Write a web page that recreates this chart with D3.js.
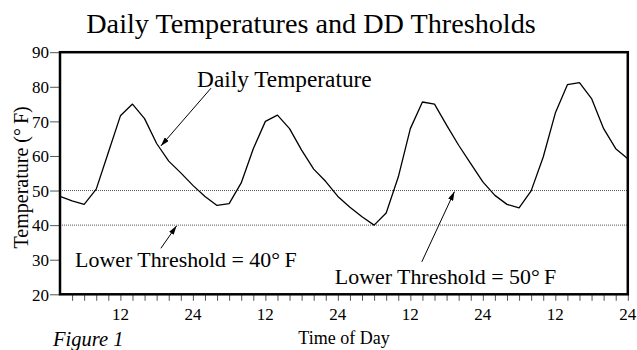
<!DOCTYPE html>
<html>
<head>
<meta charset="utf-8">
<script src="https://cdn.jsdelivr.net/npm/d3@7"></script>
<style>
  html, body { margin: 0; padding: 0; background: #fff; }
  svg { display: block; }
  svg text { font-family: "Liberation Serif", "Times New Roman", Times, "DejaVu Serif", serif !important; }
</style>
</head>
<body>
<svg id="chart" width="637" height="350"></svg>
<script>
// ---- data ----
const hours = [2, 4, 6, 8, 10, 12, 14, 16, 18, 20, 22, 24,
               26, 28, 30, 32, 34, 36, 38, 40, 42, 44, 46, 48,
               50, 52, 54, 56, 58, 60, 62, 64, 66, 68, 70, 72,
               74, 76, 78, 80, 82, 84, 86, 88, 90, 92, 94, 96];
const temps = [48.3, 47.0, 46.0, 50.4, 61.0, 71.6, 75.0, 70.8, 63.6, 58.5, 55.1, 51.5,
               48.3, 45.7, 46.2, 52.2, 62.1, 70.0, 71.8, 67.9, 61.7, 56.2, 52.6, 48.3,
               45.2, 42.4, 40.0, 43.5, 53.9, 67.9, 75.6, 75.0, 68.9, 63.1, 57.8, 52.5,
               48.6, 46.0, 45.0, 49.9, 59.7, 72.4, 80.6, 81.2, 76.6, 67.9, 62.1, 59.2];
const thresholds = [40, 50];
const yTicks = [20, 30, 40, 50, 60, 70, 80, 90];
const xMinorTicks = [4, 6, 8, 10, 12, 14, 16, 18, 20, 22, 24, 26, 28, 30, 32, 34, 36, 38, 40, 42, 44, 46, 48,
                     50, 52, 54, 56, 58, 60, 62, 64, 66, 68, 70, 72, 74, 76, 78, 80, 82, 84, 86, 88, 90, 92, 94, 96];
const xLabelTicks = [12, 24, 36, 48, 60, 72, 84, 96];
const xLabelText = ["12", "24", "12", "24", "12", "24", "12", "24"];
// annotations in data space: [hour, temp]
const annotLabels = ["Daily Temperature", "Lower Threshold = 40°\u2009F", "Lower Threshold = 50°\u2009F"];
const annotLabelPos = [[24.7, 79.8], [4.5, 27.9], [47.5, 23.0]];
const arrowFrom = [[27.0, 79.6], [18.7, 33.3], [61.9, 29.4]];
const arrowTo   = [[18.7, 62.9], [21.3, 39.8], [67.3, 49.7]];

(function () {
  const FONT = "'Liberation Serif', 'Times New Roman', Times, 'DejaVu Serif', serif";
  const annotSizes = [23.3, 21.9, 21.9];
  const svg = d3.select("#chart").attr("font-family", FONT);
  const pL = 60, pR = 627.8, pT = 52.2, pB = 294.3;
  const x = d3.scaleLinear().domain([2, 96]).range([pL, pR]);
  const y = d3.scaleLinear().domain([20, 90]).range([pB, pT]);

  svg.append("rect").attr("width", 637).attr("height", 350).attr("fill", "#fff");

  // title
  svg.append("text")
    .attr("x", 311).attr("y", 33.3)
    .attr("text-anchor", "middle")
    .attr("font-family", FONT)
    .attr("font-size", 28.2)
    .text("Daily Temperatures and DD Thresholds");

  // threshold dotted lines
  svg.append("g").selectAll("line").data(thresholds).join("line")
    .attr("x1", pL).attr("x2", pR)
    .attr("y1", d => y(d)).attr("y2", d => y(d))
    .attr("stroke", "#555").attr("stroke-width", 1)
    .attr("stroke-dasharray", "1,1");

  // temperature line
  const line = d3.line().x((d, i) => x(hours[i])).y(d => y(d));
  svg.append("path")
    .datum(temps)
    .attr("d", line)
    .attr("fill", "none")
    .attr("stroke", "#000")
    .attr("stroke-width", 1.3)
    .attr("stroke-linejoin", "round");

  // y axis
  const yAxis = svg.append("g")
    .attr("transform", `translate(${pL},0)`)
    .call(d3.axisLeft(y).tickValues(yTicks).tickSize(10).tickPadding(1));
  yAxis.attr("font-family", FONT);
  yAxis.select(".domain").remove();
  yAxis.selectAll(".tick line").attr("stroke", "#555");
  yAxis.selectAll(".tick text")
    .attr("font-size", 17)
    .attr("font-family", FONT)
    .attr("fill", "#000")
    .attr("dy", "0.34em");

  // x axis minor ticks
  const xAxis = svg.append("g")
    .attr("transform", `translate(0,${pB})`)
    .call(d3.axisBottom(x).tickValues(xMinorTicks).tickSize(6.5).tickFormat(""));
  xAxis.select(".domain").remove();
  xAxis.selectAll(".tick line").attr("stroke", "#555");

  // x labels
  svg.append("g").selectAll("text").data(xLabelTicks).join("text")
    .attr("x", d => x(d))
    .attr("y", 320)
    .attr("text-anchor", "middle")
    .attr("font-family", FONT)
    .attr("font-size", 17)
    .text((d, i) => xLabelText[i]);

  // frame
  svg.append("rect")
    .attr("x", pL).attr("y", pT)
    .attr("width", pR - pL).attr("height", pB - pT)
    .attr("fill", "none").attr("stroke", "#000").attr("stroke-width", 2.5);

  // axis titles
  svg.append("text")
    .attr("transform", `translate(28,${(106.7 + 248) / 2}) rotate(-90)`)
    .attr("text-anchor", "middle")
    .attr("font-family", FONT)
    .attr("font-size", 20)
    .text("Temperature (°\u2009F)");

  svg.append("text")
    .attr("x", 344).attr("y", 344)
    .attr("text-anchor", "middle")
    .attr("font-family", FONT)
    .attr("font-size", 18)
    .text("Time of Day");

  svg.append("text")
    .attr("x", 53).attr("y", 346)
    .attr("font-family", FONT)
    .attr("font-size", 20.5)
    .attr("font-style", "italic")
    .text("Figure 1");

  // arrow marker
  svg.append("defs").append("marker")
    .attr("id", "arrowhead")
    .attr("viewBox", "0 0 10 6")
    .attr("refX", 10).attr("refY", 3)
    .attr("markerWidth", 9).attr("markerHeight", 5.5)
    .attr("markerUnits", "userSpaceOnUse")
    .attr("orient", "auto")
    .append("path").attr("d", "M0,0 L10,3 L0,6 Z").attr("fill", "#000");

  // annotations
  svg.append("g").selectAll("text").data(annotLabels).join("text")
    .attr("x", (d, i) => x(annotLabelPos[i][0]))
    .attr("y", (d, i) => y(annotLabelPos[i][1]))
    .attr("font-family", FONT)
    .attr("font-size", (d, i) => annotSizes[i])
    .text(d => d);

  svg.append("g").selectAll("line").data(arrowFrom).join("line")
    .attr("x1", d => x(d[0])).attr("y1", d => y(d[1]))
    .attr("x2", (d, i) => x(arrowTo[i][0])).attr("y2", (d, i) => y(arrowTo[i][1]))
    .attr("stroke", "#000").attr("stroke-width", 1)
    .attr("marker-end", "url(#arrowhead)");
})();
</script>
</body>
</html>
